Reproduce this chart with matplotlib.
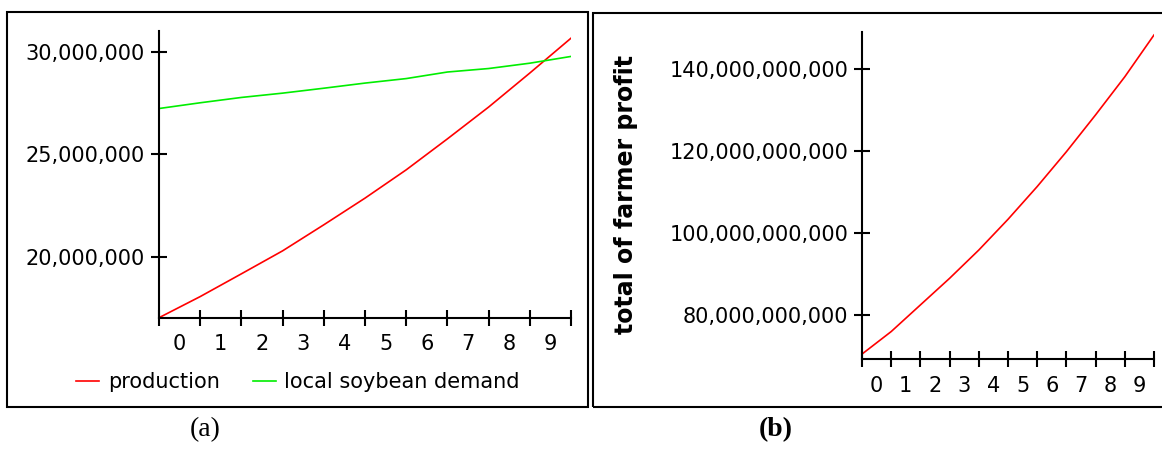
import numpy as np
import matplotlib
matplotlib.use("Agg")
import matplotlib.pyplot as plt
from matplotlib.patches import Rectangle
from matplotlib.ticker import FuncFormatter, FixedLocator

# data
steps = np.arange(11)
stepLabels = [str(i) for i in range(10)]

production = [17.02e6, 18.05e6, 19.16e6, 20.28e6, 21.55e6, 22.85e6,
              24.23e6, 25.74e6, 27.29e6, 28.95e6, 30.65e6]
localDemand = [27.22e6, 27.50e6, 27.76e6, 27.97e6, 28.21e6, 28.46e6,
               28.68e6, 29.00e6, 29.17e6, 29.43e6, 29.76e6]

farmerProfit = [70.5e9, 76.0e9, 82.5e9, 89.0e9, 95.9e9, 103.4e9,
                111.4e9, 119.9e9, 128.9e9, 138.2e9, 148.4e9]

yticksA = [20e6, 25e6, 30e6]
yticksB = [80e9, 100e9, 120e9, 140e9]

W, H = 1162, 450
plt.rcParams['font.family'] = ['DejaVu Sans']
fig = plt.figure(figsize=(W / 100, H / 100), dpi=100)


def px(x0, y0, x1, y1):
    # pixel box -> figure fraction [left, bottom, width, height]
    return [x0 / W, 1 - y1 / H, (x1 - x0) / W, (y1 - y0) / H]


def styleAxis(ax, yticks, ylim):
    for s in ['top', 'right']:
        ax.spines[s].set_visible(False)
    for s in ['left', 'bottom']:
        ax.spines[s].set_linewidth(1.5)
    ax.set_xlim(0, 10)
    ax.set_ylim(*ylim)
    ax.set_yticks(yticks)
    ax.yaxis.set_major_formatter(FuncFormatter(lambda v, p: f"{v:,.0f}"))
    ax.tick_params(axis='y', direction='inout', length=12, width=1.5,
                   labelsize=15, pad=4)
    ax.xaxis.set_major_locator(FixedLocator(list(steps)))
    ax.xaxis.set_minor_locator(FixedLocator(list(steps[:-1] + 0.5)))
    ax.tick_params(axis='x', which='major', direction='inout', length=12,
                   width=1.5, labelbottom=False)
    ax.tick_params(axis='x', which='minor', length=0, labelsize=15, pad=12)
    ax.set_xticklabels(stepLabels, minor=True)
    ax.patch.set_alpha(0)


# panel (a)
axA = fig.add_axes(px(159, 31, 571, 317.7))
axA.plot(steps, production, color='#ff0000', lw=1.2, label='production')
axA.plot(steps, localDemand, color='#00ee00', lw=1.2,
         label='local soybean demand')
styleAxis(axA, yticksA, (17.02e6, 31.0e6))
fig.legend(loc='center', bbox_to_anchor=(298 / W, 1 - 382 / H), ncol=2,
           frameon=False, fontsize=15, handlelength=1.1, handletextpad=0.4,
           columnspacing=1.6)

# panel (b)
axB = fig.add_axes(px(862, 31.7, 1154, 359))
axB.plot(steps, farmerProfit, color='#ff0000', lw=1.2)
styleAxis(axB, yticksB, (69.3e9, 149.2e9))
axB.set_ylabel('total of farmer profit', fontsize=17, fontweight='bold')
axB.yaxis.set_label_coords(638 / W, 1 - 195 / H, transform=fig.transFigure)

# panel frames
fig.add_artist(Rectangle((7 / W, 1 - 407 / H), 581 / W, 395 / H,
                         transform=fig.transFigure, fill=False,
                         lw=1.5, ec='black'))
fig.add_artist(Rectangle((593 / W, 1 - 407 / H), 600 / W, 394 / H,
                         transform=fig.transFigure, fill=False,
                         lw=1.5, ec='black'))

fig.text(205 / W, 1 - 430 / H, '(a)', ha='center', va='center',
         fontsize=20, family='Liberation Serif')
fig.text(776 / W, 1 - 430 / H, '(b)', ha='center', va='center',
         fontsize=20, family='Liberation Serif', fontweight='bold')

fig.savefig('out.png', dpi=100)
